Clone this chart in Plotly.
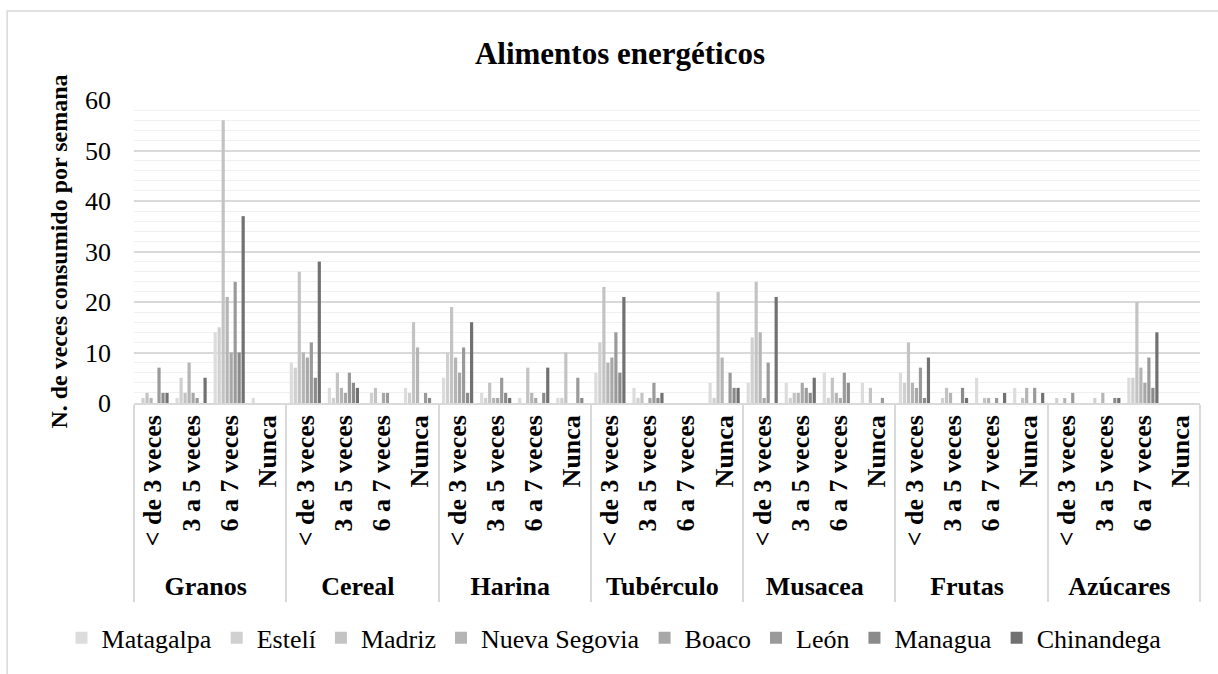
import plotly.graph_objects as go

# ---------------- data ----------------
groups = ["Granos", "Cereal", "Harina", "Tubérculo", "Musacea", "Frutas", "Azúcares"]
frequencies = ["< de 3 veces", "3 a 5 veces", "6 a 7 veces", "Nunca"]

departments = ["Matagalpa", "Estelí", "Madriz", "Nueva Segovia",
               "Boaco", "León", "Managua", "Chinandega"]

# values per department, ordered group by group, each group: <3, 3-5, 6-7, Nunca
matagalpa     = [0, 1, 14, 1,   8, 3, 0, 3,    5, 2, 1, 1,   6, 3, 0, 4,   4, 4, 6, 4,   6, 0, 5, 3,   0, 0, 5, 0]
esteli        = [1, 5, 15, 0,   7, 1, 2, 2,   10, 1, 0, 1,  12, 1, 0, 1,  13, 1, 1, 0,   4, 1, 0, 0,   1, 1, 5, 0]
madriz        = [2, 2, 56, 0,  26, 6, 3, 16,  19, 4, 7, 10, 23, 2, 0, 22, 24, 2, 5, 3,  12, 3, 1, 1,   0, 0, 20, 0]
nueva_segovia = [1, 8, 21, 0,  10, 3, 0, 11,   9, 1, 2, 0,   8, 0, 0, 9,  14, 2, 2, 0,   4, 2, 1, 3,   1, 2, 7, 0]
boaco         = [0, 2, 10, 0,   9, 2, 2, 0,    6, 1, 1, 0,   9, 1, 0, 0,   1, 4, 1, 0,   3, 0, 0, 0,   0, 0, 4, 0]
leon          = [7, 1, 24, 0,  12, 6, 2, 2,   11, 5, 0, 5,  14, 4, 0, 6,   8, 3, 6, 1,   7, 0, 1, 3,   2, 0, 9, 0]
managua       = [2, 0, 10, 0,   5, 4, 0, 1,    2, 2, 2, 1,   6, 1, 0, 3,   0, 2, 4, 0,   1, 3, 0, 0,   0, 1, 3, 0]
chinandega    = [2, 5, 37, 0,  28, 3, 0, 0,   16, 1, 7, 0,  21, 2, 0, 3,  21, 5, 0, 0,   9, 1, 2, 2,   0, 1, 14, 0]

series_values = [matagalpa, esteli, madriz, nueva_segovia, boaco, leon, managua, chinandega]
colors = ["#DCDCDC", "#D0D0D0", "#C3C3C3", "#B5B5B5",
          "#A8A8A8", "#9A9A9A", "#8B8B8B", "#717171"]

x_outer = [g for g in groups for _ in frequencies]
x_inner = [f for _ in groups for f in frequencies]

FONT = "Liberation Serif"

fig = go.Figure()
for name, vals, col in zip(departments, series_values, colors):
    fig.add_trace(go.Bar(x=[x_outer, x_inner], y=vals, name=name,
                         marker=dict(color=col, line=dict(width=0))))

fig.update_layout(
    width=1218, height=674,
    paper_bgcolor="white", plot_bgcolor="white",
    margin=dict(l=134, r=18, t=100, b=268),
    barmode="group", bargap=0.16, bargroupgap=0.2,
    font=dict(family=FONT, color="black"),
    title=dict(text="<b>Alimentos energéticos</b>", x=0.509, xref="container",
               xanchor="center", y=1 - 53 / 674, yref="container", yanchor="middle",
               font=dict(family=FONT, size=31, color="black")),
    legend=dict(orientation="h", x=-0.068, xanchor="left", y=-0.775, yanchor="middle",
                font=dict(family=FONT, size=26, color="black"),
                itemwidth=30, traceorder="normal"),
    showlegend=True,
)

fig.update_xaxes(
    type="multicategory", tickangle=-90,
    tickfont=dict(family=FONT, size=26, color="black", weight="bold"),
    showdividers=True, dividercolor="#D9D9D9", dividerwidth=1.5,
    showline=True, linecolor="#D9D9D9", linewidth=1.5,
    ticks="", showgrid=False,
)
fig.update_yaxes(
    range=[0, 60], dtick=10, tick0=0,
    showgrid=True, gridcolor="#D9D9D9", gridwidth=1.5,
    minor=dict(dtick=2, showgrid=True, gridcolor="#F0F0F0", gridwidth=1),
    zeroline=False, showline=False, ticks="",
    ticklabelstandoff=22,
    tickfont=dict(family=FONT, size=26, color="black"),
    title=dict(text="<b>N. de veces consumido por semana</b>", standoff=10,
               font=dict(family=FONT, size=24, color="black")),
)

# chart frame (right and bottom edges fall outside the picture)
fig.add_shape(type="rect", xref="paper", yref="paper",
              x0=-0.119, x1=1.05, y0=-1.1, y1=1.294,
              line=dict(color="#D9D9D9", width=1.5), fillcolor="rgba(0,0,0,0)",
              layer="below")

fig.write_html("out.html", config={"displayModeBar": False},
               post_script="document.body.style.margin='0px';document.body.style.overflow='hidden';")
